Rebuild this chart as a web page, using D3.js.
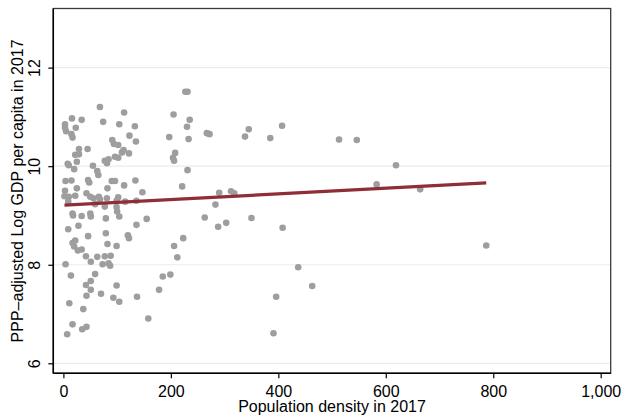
<!DOCTYPE html>
<html><head><meta charset="utf-8">
<script src="https://cdn.jsdelivr.net/npm/d3@7"></script>
<style>
body{margin:0;background:#fff}
svg{display:block}
text{font-family:"Liberation Sans",Arial,Helvetica,sans-serif;fill:#000}
</style>
</head><body>
<svg id="c" width="622" height="416"></svg>
<script>
// Population density in 2017 (x) and PPP-adjusted log GDP per capita (y)
const density = [68,113,16,34,74,104,133,3,3,5,23,15,17,123,135,91,94,102,45,29,22,29,112,109,122,96,102,84,77,81,25,8,10,20,55,63,65,4,15,46,48,90,96,113,134,82,25,3,2,10,22,43,50,56,66,68,81,102,99,115,147,59,77,99,136,9,17,18,34,50,51,100,104,79,9,28,136,46,79,120,122,17,22,20,27,34,82,99,42,63,77,88,51,4,73,84,87,14,59,51,42,51,43,70,99,93,104,137,11,37,17,35,43,7,155,158,178,185,199,206,212,223,197,205,227,231,235,230,233,208,204,206,231,221,267,272,338,345,385,407,290,312,318,283,263,288,303,350,408,437,463,396,391,513,546,619,583,664,787];
const logGdp = [11.20,11.09,10.97,10.94,10.90,10.85,10.81,10.85,10.78,10.71,10.78,10.65,10.58,10.62,10.50,10.53,10.45,10.43,10.35,10.35,10.23,10.24,10.33,10.28,10.26,10.19,10.17,10.14,10.11,10.06,10.09,10.05,10.02,9.94,10.01,9.90,9.82,9.70,9.71,9.72,9.67,9.70,9.70,9.61,9.71,9.55,9.55,9.50,9.39,9.38,9.40,9.45,9.38,9.35,9.38,9.33,9.35,9.37,9.30,9.28,9.47,9.23,9.18,9.17,9.30,9.28,9.04,9.00,8.99,9.04,8.98,9.08,8.98,8.94,8.72,8.79,8.81,8.58,8.64,8.60,8.54,8.44,8.49,8.37,8.29,8.31,8.42,8.38,8.17,8.16,8.17,8.18,8.06,8.01,8.01,8.03,7.98,7.78,7.81,7.67,7.59,7.49,7.37,7.41,7.58,7.33,7.25,7.35,7.22,7.10,6.79,6.69,6.74,6.59,8.93,6.91,7.49,7.76,7.80,8.38,8.15,8.54,10.59,11.05,11.51,11.51,10.94,10.80,10.55,10.27,10.17,10.11,9.92,9.59,10.67,10.65,10.60,10.75,10.57,10.82,9.46,9.49,9.45,9.22,8.96,8.77,8.85,8.95,8.75,7.95,7.57,7.35,6.61,10.54,10.53,10.02,9.63,9.53,8.39];
// Linear fit line end points
const fitX = [2, 787];
const fitY = [9.21, 9.66];
const xTicks = [0, 200, 400, 600, 800, 1000];
const yTicks = [6, 8, 10, 12];
const xTitle = "Population density in 2017";
const yTitle = "PPP\u2013adjusted Log GDP per capita in 2017";

const W = 622, H = 416;
const m = {left: 53.3, right: 11.3, top: 8.5, bottom: 42.7};
const svg = d3.select("#c");
const x = d3.scaleLinear().domain([-18.8, 1018.6]).range([m.left, W - m.right]);
const y = d3.scaleLinear().domain([5.797, 13.2]).range([H - m.bottom, m.top]);

// gridlines
svg.append("g").selectAll("line").data(yTicks).join("line")
  .attr("x1", m.left).attr("x2", W - m.right)
  .attr("y1", d => y(d)).attr("y2", d => y(d))
  .attr("stroke", "#e6eeee").attr("stroke-width", 1.2);

// frame (top/right)
svg.append("rect").attr("x", m.left).attr("y", m.top)
  .attr("width", W - m.right - m.left).attr("height", H - m.bottom - m.top)
  .attr("fill", "none").attr("stroke", "#3a3a3a").attr("stroke-width", 1.3);

// points
svg.append("g").selectAll("circle").data(density.map((d, i) => [d, logGdp[i]])).join("circle")
  .attr("cx", d => x(d[0])).attr("cy", d => y(d[1])).attr("r", 3.3)
  .attr("fill", "#9e9e9e");

// fit line
svg.append("path")
  .datum(fitX.map((d, i) => [d, fitY[i]]))
  .attr("d", d3.line().x(d => x(d[0])).y(d => y(d[1])))
  .attr("fill", "none").attr("stroke", "#8f2e36").attr("stroke-width", 3.2);

// x axis
const gx = svg.append("g").attr("transform", `translate(0,${H - m.bottom})`)
  .call(d3.axisBottom(x).tickValues(xTicks).tickFormat(d3.format(",")).tickSize(5).tickSizeOuter(0).tickPadding(7));
gx.select(".domain").attr("stroke", "#000").attr("stroke-width", 1.5).attr("d", `M${m.left},0H${W - m.right}`);
gx.selectAll(".tick line").attr("stroke", "#000").attr("stroke-width", 1.2);
gx.selectAll("text").attr("font-size", 16).style("font-family", '"Liberation Sans",Arial,sans-serif').attr("fill", "#000");

// y axis
const gy = svg.append("g").attr("transform", `translate(${m.left},0)`)
  .call(d3.axisLeft(y).tickValues(yTicks).tickSize(5).tickSizeOuter(0));
gy.select(".domain").attr("stroke", "#000").attr("stroke-width", 1.5).attr("d", `M0,${m.top}V${H - m.bottom}`);
gy.selectAll(".tick line").attr("stroke", "#000").attr("stroke-width", 1.2);
gy.selectAll("text").attr("font-size", 16).style("font-family", '"Liberation Sans",Arial,sans-serif').attr("fill", "#000")
  .attr("transform", "rotate(-90)").attr("x", 0).attr("y", -13.8).attr("dy", 0)
  .attr("text-anchor", "middle");

// titles
svg.append("text").attr("x", (m.left + W - m.right) / 2).attr("y", 412)
  .attr("text-anchor", "middle").attr("font-size", 16).text(xTitle);
svg.append("text").attr("transform", `translate(22.5,${(m.top + H - m.bottom) / 2}) rotate(-90)`)
  .attr("text-anchor", "middle").attr("font-size", 16).text(yTitle);
</script>
</body></html>
